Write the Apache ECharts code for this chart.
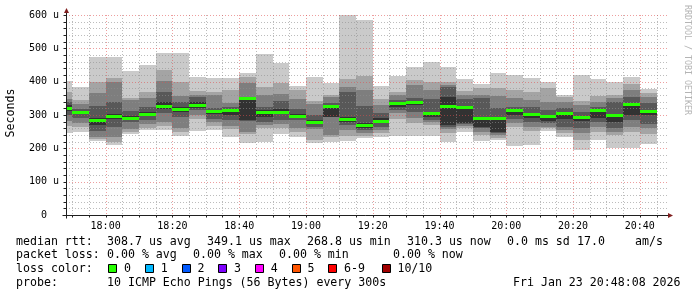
<!DOCTYPE html>
<html><head><meta charset="utf-8">
<script src="https://cdn.jsdelivr.net/npm/echarts@6/dist/echarts.min.js"></script>
<style>html,body{margin:0;padding:0;background:#fff}#c{width:697px;height:297px}</style>
</head><body><div id="c"></div>
<script>
// 5-minute slots (start time of each bucket)
const slots = ['17:45','17:50','17:55','18:00','18:05','18:10','18:15','18:20','18:25','18:30','18:35','18:40',
  '18:45','18:50','18:55','19:00','19:05','19:10','19:15','19:20','19:25','19:30','19:35','19:40',
  '19:45','19:50','19:55','20:00','20:05','20:10','20:15','20:20','20:25','20:30','20:35','20:40'];
// sorted ping RTTs (microseconds), ping01 = fastest ... ping10 = slowest
const ping01 = [247,250,222,211,243,255,255,238,253,256,233,217,218,243,235,215,220,223,230,235,237,237,237,220,250,223,225,208,210,253,233,195,225,202,200,213];
const ping02 = [267,265,227,220,248,262,267,250,287,268,257,243,262,262,250,225,235,237,238,245,287,275,270,247,260,240,232,265,253,260,245,225,250,240,250,243];
const ping03 = [283,275,235,233,258,272,278,260,300,278,267,248,270,272,260,257,240,255,245,255,305,290,278,257,268,250,240,275,265,265,255,245,265,250,265,260];
const ping04 = [300,290,253,265,280,285,305,295,315,288,285,283,280,285,285,265,293,270,255,265,315,310,285,265,272,260,245,287,280,275,265,262,280,260,285,273];
const ping05 = [312,302,270,288,286,298,318,310,322,303,300,285,295,303,290,272,295,280,262,277,325,330,295,270,277,265,250,300,290,282,287,282,290,280,300,300];
const ping06 = [330,312,290,302,298,310,340,325,338,316,318,350,315,318,303,284,325,295,275,290,337,340,310,353,324,292,290,312,302,292,303,292,312,297,330,312];
const ping07 = [340,318,327,340,312,324,369,339,354,322,325,355,323,343,317,300,335,368,327,305,345,350,347,383,347,350,322,325,324,315,320,310,325,340,355,337];
const ping08 = [348,332,365,400,345,352,403,357,360,360,335,395,360,363,347,333,353,383,375,330,359,390,375,390,360,360,357,350,345,340,340,330,340,350,375,355];
const ping09 = [370,345,399,410,350,370,436,400,373,368,375,415,385,397,375,343,360,407,417,348,369,405,400,400,373,380,382,375,370,380,353,343,357,360,393,365];
const ping10 = [402,383,474,474,432,450,487,487,415,412,410,426,483,457,387,413,397,600,585,387,417,443,458,443,407,393,427,420,410,400,360,420,408,399,414,377];
const median = [320,309,284,297,291,303,326,318,329,311,313,349.1,308,309,296,278,327,287,268.8,281,335,338,305,326,323,290,291,315,303,295,306,294,314,300,333,310.3];

const xTickLabels = ['18:00','18:20','18:40','19:00','19:20','19:40','20:00','20:20','20:40'];
const yTickLabels = ['0  ','100 u','200 u','300 u','400 u','500 u','600 u'];

const rowRtt = [['median rtt:',16],['308.7 us avg',107],['349.1 us max',207],['268.8 us min',307],['310.3 us now',407],['0.0 ms sd',507],['17.0',577],['am/s',635]];
const rowLoss = [['packet loss:',16],['0.00 % avg',107],['0.00 % max',193],['0.00 % min',279],['0.00 % now',393]];
const lossLabels = ['0','1','2','3','4','5','6-9','10/10'];
const lossColors = ['#26ff00','#00b8ff','#0059ff','#7e00ff','#ff00ff','#ff5500','#ff0000','#a10000'];
const rowProbe = [['probe:',16],['10 ICMP Echo Pings (56 Bytes) every 300s',107],['Fri Jan 23 20:48:08 2026',513]];

// ---- helpers / layout ----
const toMin = s => { const [h,m] = s.split(':').map(Number); return h*60+m; };
const STEP = 5;
const X_MIN = 17*60+48+8/60, X_MAX = 20*60+48+8/60;
const SMOKE = ['#cacaca','#a4a4a4','#7e7e7e','#585858','#323232'];
const MONO = '"DejaVu Sans Mono", "Liberation Mono", monospace';
const G = {left:66, top:15, width:601, height:200};

const pings = [ping01,ping02,ping03,ping04,ping05,ping06,ping07,ping08,ping09,ping10];
const smokeData = slots.map((s,i) => [toMin(s), toMin(s)+STEP].concat(pings.map(p => p[i])));
const medianData = slots.map((s,i) => [toMin(s), toMin(s)+STEP, median[i]]);

const gridData = [];
for (let t = Math.ceil(X_MIN/STEP)*STEP; t < X_MAX; t += STEP) gridData.push([t, 0, 0, (t % 20 === 0) ? 1 : 0]);
for (let v = 20; v <= 600; v += 20) gridData.push([X_MIN, v, 1, (v % 100 === 0) ? 1 : 0]);
const xTickValues = xTickLabels.map(toMin);

function clampX(v){ return Math.min(Math.max(v, X_MIN), X_MAX); }

function renderSmoke(params, api) {
  const s = clampX(api.value(0)), e = clampX(api.value(1));
  const children = [];
  for (let j = 0; j < 5; j++) {
    const lo = api.value(2 + j), hi = api.value(11 - j);
    const a = api.coord([s, hi]), b = api.coord([e, lo]);
    const x0 = Math.round(a[0]), x1 = Math.round(b[0]);
    const y0 = Math.round(a[1]), y1 = Math.round(b[1]);
    children.push({type:'rect', shape:{x:x0, y:y0, width:x1-x0, height:y1-y0}, style:{fill:SMOKE[j]}});
  }
  return {type:'group', children};
}
function renderMedian(params, api) {
  const s = clampX(api.value(0)), e = clampX(api.value(1));
  const a = api.coord([s, api.value(2)]), b = api.coord([e, api.value(2)]);
  const x0 = Math.round(a[0]), x1 = Math.round(b[0]);
  const yc = Math.round(a[1] - 1.5);
  return {type:'rect', shape:{x:x0, y:yc, width:x1-x0, height:3}, style:{fill:lossColors[0]}};
}
function renderGrid(params, api) {
  const cs = params.coordSys;
  const orient = api.value(2), major = api.value(3);
  const stroke = major ? 'rgba(222,79,79,0.55)' : 'rgba(143,143,143,0.6)';
  const children = [];
  if (orient === 0) {
    const x = Math.round(api.coord([api.value(0), 0])[0]) + 0.5;
    children.push({type:'line', shape:{x1:x, y1:cs.y, x2:x, y2:cs.y+cs.height}, style:{stroke, lineWidth:1, lineDash:[1,2]}});
    children.push({type:'line', shape:{x1:x, y1:cs.y+cs.height, x2:x, y2:cs.y+cs.height+2.5}, style:{stroke:'#1f1f1f', lineWidth:1}});
  } else {
    const y = Math.round(api.coord([X_MIN, api.value(1)])[1]) + 0.5;
    children.push({type:'line', shape:{x1:cs.x, y1:y, x2:cs.x+cs.width, y2:y}, style:{stroke, lineWidth:1, lineDash:[1,2]}});
    children.push({type:'line', shape:{x1:cs.x-2.5, y1:y, x2:cs.x, y2:y}, style:{stroke:'#1f1f1f', lineWidth:1}});
  }
  return {type:'group', children};
}

const chart = echarts.init(document.getElementById('c'), null, {renderer:'canvas', width:697, height:297});

const textEl = (text, x, y, extra) => Object.assign({type:'text', silent:true,
  style:Object.assign({text, x, y, font:'11.6px ' + MONO, fill:'#000', align:'left', verticalAlign:'middle',
    textAlign:'left', textVerticalAlign:'middle'}, extra || {})});

const graphics = [];
const ax = G.left + 0.5, ay = G.top + G.height + 0.5;
graphics.push({type:'line', silent:true, z:100, shape:{x1:ax, y1:11, x2:ax, y2:ay+3}, style:{stroke:'#1f1f1f', lineWidth:1}});
graphics.push({type:'line', silent:true, z:100, shape:{x1:ax-4, y1:ay, x2:G.left+G.width+2, y2:ay}, style:{stroke:'#1f1f1f', lineWidth:1}});
graphics.push({type:'polygon', silent:true, z:101, shape:{points:[[ax-2.5,13],[ax+2.5,13],[ax,8]]}, style:{fill:'#801f1f'}});
graphics.push({type:'polygon', silent:true, z:101, shape:{points:[[G.left+G.width+1,ay-2.5],[G.left+G.width+1,ay+2.5],[G.left+G.width+6,ay]]}, style:{fill:'#801f1f'}});
graphics.push(Object.assign(textEl('Seconds', 11, 113, {align:'center', textAlign:'center'}), {rotation:Math.PI/2, x:0, y:0, originX:11, originY:113}));
graphics.push(Object.assign(textEl('RRDTOOL / TOBI OETIKER', 687.5, 60, {align:'center', textAlign:'center', font:'8.3px ' + MONO, fill:'#b4b4b4'}), {rotation:-Math.PI/2, originX:687.5, originY:60}));
rowRtt.forEach(([t,x]) => graphics.push(textEl(t, x, 241.7)));
rowLoss.forEach(([t,x]) => graphics.push(textEl(t, x, 255.2)));
graphics.push(textEl('loss color:', 16, 268.8));
const boxX = [108.3, 145, 181.7, 218.3, 255, 291.7, 328.3, 381.7];
lossLabels.forEach((t,i) => {
  graphics.push({type:'rect', silent:true, shape:{x:Math.round(boxX[i])+0.5, y:264.5, width:8, height:8}, style:{fill:lossColors[i], stroke:'#000', lineWidth:1}});
  graphics.push(textEl(t, boxX[i] + 15.7, 268.8));
});
rowProbe.forEach(([t,x]) => graphics.push(textEl(t, x, 282.7)));

chart.setOption({
  animation:false,
  backgroundColor:'#ffffff',
  grid:{left:G.left, top:G.top, width:G.width, height:G.height, containLabel:false, outerBoundsMode:'none'},
  xAxis:{type:'value', min:X_MIN, max:X_MAX, axisLine:{show:false}, axisTick:{show:false}, splitLine:{show:false},
    axisLabel:{customValues:xTickValues, formatter:v => xTickLabels[xTickValues.indexOf(Math.round(v))] || '',
      fontFamily:MONO, fontSize:10, color:'#000', margin:6}},
  yAxis:{type:'value', min:0, max:600, interval:100, axisLine:{show:false}, axisTick:{show:false}, splitLine:{show:false},
    axisLabel:{formatter:v => yTickLabels[Math.round(v/100)], fontFamily:MONO, fontSize:10, color:'#000', margin:7}},
  graphic:{elements:graphics},
  series:[
    {type:'custom', name:'smoke', silent:true, z:2, renderItem:renderSmoke, data:smokeData, encode:{x:[0,1], y:[2,3,4,5,6,7,8,9,10,11]}},
    {type:'custom', name:'grid', silent:true, z:3, renderItem:renderGrid, data:gridData, encode:{x:0, y:1}},
    {type:'custom', name:'median', silent:true, z:4, renderItem:renderMedian, data:medianData, encode:{x:[0,1], y:2}}
  ]
});
</script></body></html>
